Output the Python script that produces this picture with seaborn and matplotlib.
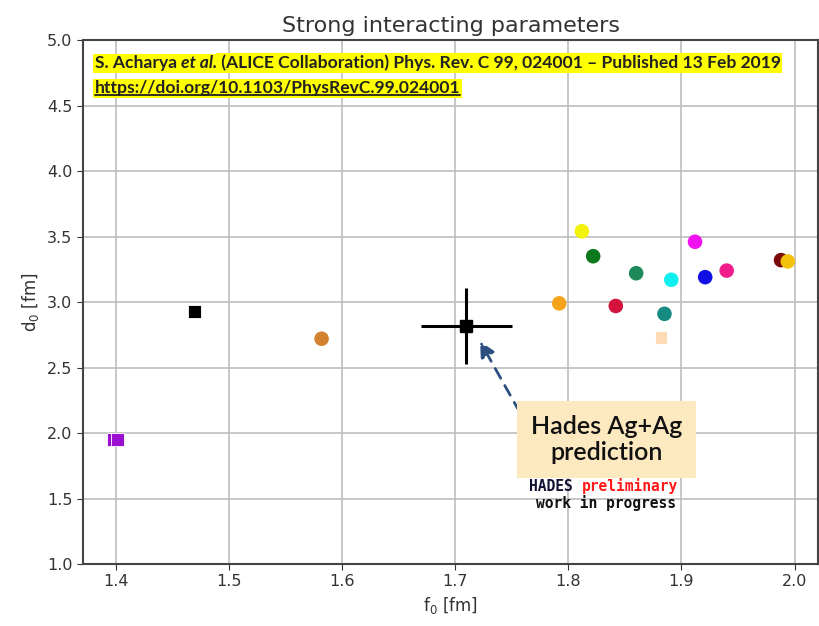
import matplotlib
matplotlib.use("Agg")
import matplotlib.pyplot as plt
import seaborn as sns
import pandas as pd
from matplotlib.lines import Line2D

# ---- data ----
circle_f0 = [1.582, 1.792, 1.812, 1.822, 1.842, 1.860, 1.891, 1.885, 1.912, 1.921, 1.940, 1.988, 1.994]
circle_d0 = [2.72, 2.99, 3.54, 3.35, 2.97, 3.22, 3.17, 2.91, 3.46, 3.19, 3.24, 3.32, 3.31]
circle_colors = ["#D2822E", "#F5A31A", "#F2F20A", "#0C7A1C", "#D4143C", "#1E8A5A",
                 "#10F0F0", "#148A80", "#F010F0", "#1010E6", "#F01C8C", "#7A0A0A", "#F2C20A"]

square_f0 = [1.47, 1.398, 1.402, 1.882]
square_d0 = [2.93, 1.95, 1.95, 2.73]
square_colors = ["#000000", "#9A0FD0", "#9A0FD0", "#FDDCB5"]

hades_f0 = [1.71]
hades_d0 = [2.82]
hades_f0_err = [0.04]
hades_d0_err = [0.29]

xticks = [1.4, 1.5, 1.6, 1.7, 1.8, 1.9, 2.0]
yticks = [1.0, 1.5, 2.0, 2.5, 3.0, 3.5, 4.0, 4.5, 5.0]

sns.set_style("whitegrid", {"grid.color": "#bdbdbd", "axes.edgecolor": "#444444",
                            "xtick.bottom": True, "ytick.left": True})
plt.rcParams["font.family"] = ["DejaVu Sans"]

fig = plt.figure(figsize=(8.2, 6.26), dpi=100)
ax = fig.add_axes([0.101, 0.099, 0.897, 0.837])

df_c = pd.DataFrame({"f0": circle_f0, "d0": circle_d0, "c": [str(i) for i in range(len(circle_f0))]})
sns.scatterplot(data=df_c, x="f0", y="d0", hue="c", palette=circle_colors, s=110,
                edgecolor="none", legend=False, ax=ax, zorder=3)
df_s = pd.DataFrame({"f0": square_f0, "d0": square_d0, "c": [str(i) for i in range(len(square_f0))]})
sns.scatterplot(data=df_s, x="f0", y="d0", hue="c", palette=square_colors, s=85, marker="s",
                edgecolor="white", linewidth=0.6, legend=False, ax=ax, zorder=3)
ax.errorbar(hades_f0, hades_d0, xerr=hades_f0_err, yerr=hades_d0_err, fmt="s", color="black",
            ms=8, elinewidth=2.2, capsize=0, zorder=4)

ax.set_xlim(1.371, 2.021)
ax.set_ylim(1.0, 5.0)
ax.set_xticks(xticks)
ax.set_yticks(yticks)
ax.set_xticklabels([f"{t:.1f}" for t in xticks])
ax.set_yticklabels([f"{t:.1f}" for t in yticks])
ax.tick_params(labelsize=11.5, colors="#333333", length=4)
for sp in ax.spines.values():
    sp.set_linewidth(1.5)
ax.grid(True, linewidth=1.2)
ax.set_xlabel(r"f$_0$ [fm]", fontsize=12, color="#333333")
ax.set_ylabel(r"d$_0$ [fm]", fontsize=12, color="#333333")
ax.set_title("Strong interacting parameters", fontsize=16, color="#333333", pad=6)

# reference texts with yellow background
yb = dict(facecolor="#FFFF00", edgecolor="none", pad=1.0)
fs = 12.6
t1 = ax.text(0.016, 0.956, "S. Acharya ", transform=ax.transAxes, fontsize=fs, fontweight="bold",
             family="Lato", va="center", ha="left", bbox=yb, color="#222222")
t2 = ax.annotate("et al.", xy=(1, 0), xycoords=t1, xytext=(0, 0), textcoords="offset points",
                 fontsize=fs, fontweight="bold", fontstyle="italic", family="Lato",
                 va="bottom", ha="left", bbox=yb, color="#222222")
t3 = ax.annotate(" (ALICE Collaboration) Phys. Rev. C 99, 024001 \u2013 Published 13 Feb 2019",
                 xy=(1, 0), xycoords=t2, xytext=(0, 0), textcoords="offset points",
                 fontsize=fs, fontweight="bold", family="Lato", va="bottom", ha="left",
                 bbox=yb, color="#222222")
t4 = ax.text(0.016, 0.908, "https://doi.org/10.1103/PhysRevC.99.024001", transform=ax.transAxes,
             fontsize=fs, fontweight="bold", family="Lato", va="center", ha="left", bbox=yb,
             color="#222222")

fig.canvas.draw()
r = fig.canvas.get_renderer()
bb = t4.get_window_extent(r)
inv = fig.transFigure.inverted()
(x0, y0) = inv.transform((bb.x0, bb.y0 + 1))
(x1, _) = inv.transform((bb.x1, bb.y0 + 1))
fig.add_artist(Line2D([x0, x1], [y0, y0], transform=fig.transFigure, color="#222222", lw=1.3))

# Hades annotation
ax.annotate("", xy=(1.722, 2.70), xytext=(1.7655, 2.03),
            arrowprops=dict(arrowstyle="-|>,head_length=0.9,head_width=0.45", color="#2B4F7E",
                            lw=2, linestyle=(0, (4, 3)), shrinkA=0, shrinkB=0))
ax.text(1.8336, 1.95, "Hades Ag+Ag\nprediction", fontsize=18, family="Lato", fontweight="semibold",
        ha="center", va="center", linespacing=1.15, color="#111111",
        bbox=dict(facecolor="#FCE9C0", edgecolor="none", boxstyle="square,pad=0.55"), zorder=5)
ta = ax.text(1.7655, 1.595, "HADES ", fontsize=10.5, family="DejaVu Sans Mono", fontweight="bold",
             ha="left", va="center", color="#111133", zorder=6)
ax.annotate("preliminary", xy=(1, 0), xycoords=ta, xytext=(0, 0), textcoords="offset points",
            fontsize=10.5, family="DejaVu Sans Mono", fontweight="bold", ha="left", va="bottom",
            color="#FF1A1A", zorder=6)
ax.text(1.8336, 1.466, "work in progress", fontsize=10.5, family="DejaVu Sans Mono", fontweight="bold",
        ha="center", va="center", color="#111111", zorder=6)

fig.savefig("out.png", dpi=100)
